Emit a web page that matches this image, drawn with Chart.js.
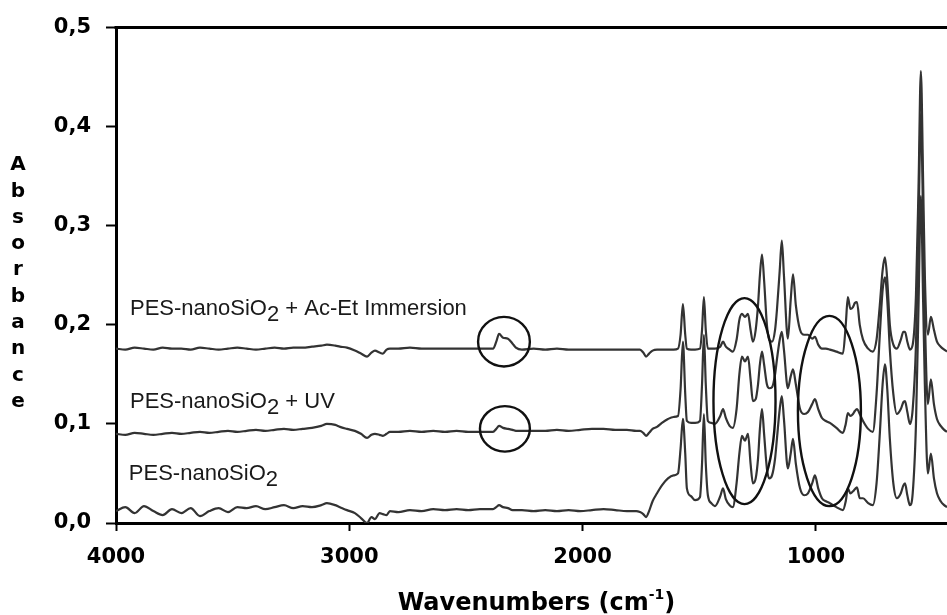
<!DOCTYPE html>
<html>
<head>
<meta charset="utf-8">
<script src="https://cdn.jsdelivr.net/npm/chart.js@4.4.1/dist/chart.umd.min.js"></script>
<style>
  html, body { margin: 0; padding: 0; background: #fff; }
  #wrap { width: 947px; height: 615px; }
</style>
</head>
<body>
<div id="wrap"><canvas id="ftir"></canvas></div>
<script>
// --- DATA ---
// wavenumbers, cm-1 (axis runs 4000 -> ~440)
const WN = [
  4000, 3960, 3920, 3880, 3840, 3800, 3760, 3720, 3680, 3640, 3600, 3560, 3520, 3480, 3440, 3400,
  3360, 3320, 3280, 3240, 3200, 3160, 3120, 3096, 3060, 3040, 3010, 2976, 2950, 2924, 2905, 2890,
  2870, 2856, 2840, 2826, 2790, 2740, 2690, 2640, 2590, 2540, 2490, 2440, 2400, 2384, 2370, 2358,
  2341, 2320, 2300, 2286, 2260, 2210, 2160, 2110, 2060, 2010, 1960, 1910, 1860, 1810, 1770, 1754,
  1740, 1728, 1715, 1700, 1681, 1660, 1634, 1610, 1591, 1580, 1570, 1560, 1553, 1535, 1518, 1497,
  1488, 1480, 1472, 1463, 1448, 1433, 1410, 1398, 1386, 1370, 1356, 1340, 1328, 1317, 1304, 1291,
  1280, 1270, 1258, 1248, 1240, 1231, 1222, 1210, 1200, 1188, 1175, 1167, 1155, 1146, 1137, 1120,
  1108, 1098, 1086, 1068, 1050, 1034, 1016, 1004, 990, 974, 957, 940, 912, 884, 872, 863,
  852, 841, 833, 824, 812, 798, 776, 756, 740, 726, 714, 704, 694, 683, 668, 653,
  636, 625, 618, 608, 597, 585, 571, 560, 550, 540, 533, 520, 507, 494, 481, 465,
  450, 438
];

// PES-nanoSiO2 + Ac-Et Immersion
const ABS_ACET = [
  0.176, 0.175, 0.177, 0.176, 0.175, 0.177, 0.176, 0.176, 0.175, 0.177, 0.176, 0.175, 0.176, 0.177, 0.176, 0.175,
  0.176, 0.177, 0.176, 0.177, 0.177, 0.178, 0.179, 0.180, 0.179, 0.178, 0.177, 0.174, 0.171, 0.168, 0.172, 0.174,
  0.172, 0.171, 0.175, 0.176, 0.176, 0.177, 0.176, 0.176, 0.176, 0.176, 0.176, 0.176, 0.176, 0.176, 0.183, 0.191,
  0.187, 0.186, 0.181, 0.177, 0.175, 0.176, 0.175, 0.176, 0.175, 0.175, 0.175, 0.175, 0.175, 0.175, 0.175, 0.175,
  0.172, 0.168, 0.171, 0.174, 0.175, 0.175, 0.175, 0.175, 0.176, 0.190, 0.221, 0.190, 0.176, 0.175, 0.175, 0.176,
  0.195, 0.228, 0.195, 0.176, 0.176, 0.176, 0.178, 0.183, 0.178, 0.175, 0.173, 0.185, 0.205, 0.211, 0.208, 0.211,
  0.195, 0.183, 0.195, 0.220, 0.250, 0.271, 0.245, 0.200, 0.185, 0.183, 0.195, 0.215, 0.255, 0.285, 0.250, 0.186,
  0.225, 0.251, 0.220, 0.195, 0.190, 0.190, 0.186, 0.188, 0.180, 0.176, 0.176, 0.175, 0.173, 0.171, 0.200, 0.228,
  0.216, 0.218, 0.222, 0.223, 0.200, 0.185, 0.176, 0.173, 0.185, 0.220, 0.255, 0.268, 0.245, 0.200, 0.180, 0.176,
  0.185, 0.193, 0.193, 0.183, 0.175, 0.180, 0.230, 0.340, 0.456, 0.340, 0.250, 0.190, 0.208, 0.195, 0.183, 0.178,
  0.175, 0.173
];

// PES-nanoSiO2 + UV
const ABS_UV = [
  0.090, 0.089, 0.091, 0.090, 0.089, 0.090, 0.091, 0.090, 0.091, 0.092, 0.091, 0.092, 0.093, 0.092, 0.093, 0.094,
  0.093, 0.094, 0.095, 0.094, 0.095, 0.096, 0.098, 0.100, 0.099, 0.097, 0.095, 0.093, 0.090, 0.086, 0.089, 0.090,
  0.089, 0.088, 0.090, 0.092, 0.092, 0.093, 0.092, 0.093, 0.092, 0.093, 0.092, 0.092, 0.092, 0.092, 0.095, 0.098,
  0.096, 0.095, 0.094, 0.093, 0.093, 0.093, 0.093, 0.094, 0.093, 0.094, 0.095, 0.095, 0.094, 0.094, 0.093, 0.093,
  0.091, 0.088, 0.091, 0.095, 0.097, 0.101, 0.105, 0.107, 0.108, 0.135, 0.183, 0.130, 0.103, 0.101, 0.101, 0.103,
  0.140, 0.190, 0.140, 0.103, 0.101, 0.100, 0.108, 0.115, 0.106, 0.098, 0.096, 0.115, 0.150, 0.168, 0.163, 0.168,
  0.145, 0.123, 0.125, 0.140, 0.160, 0.173, 0.160, 0.140, 0.136, 0.137, 0.150, 0.165, 0.185, 0.193, 0.175, 0.136,
  0.148, 0.155, 0.140, 0.115, 0.110, 0.112, 0.120, 0.125, 0.115, 0.106, 0.103, 0.101, 0.096, 0.091, 0.100, 0.111,
  0.108, 0.110, 0.113, 0.115, 0.110, 0.103, 0.095, 0.092, 0.130, 0.190, 0.235, 0.248, 0.225, 0.175, 0.130, 0.110,
  0.115, 0.122, 0.123, 0.112, 0.100, 0.115, 0.180, 0.300, 0.413, 0.300, 0.210, 0.120, 0.145, 0.120, 0.105, 0.098,
  0.094, 0.092
];

// PES-nanoSiO2
const ABS_PES = [
  0.012, 0.016, 0.010, 0.017, 0.012, 0.008, 0.014, 0.010, 0.015, 0.007, 0.012, 0.015, 0.011, 0.016, 0.015, 0.017,
  0.014, 0.016, 0.018, 0.015, 0.017, 0.016, 0.018, 0.020, 0.018, 0.016, 0.013, 0.010, 0.005, 0.000, 0.006, 0.004,
  0.010, 0.009, 0.008, 0.012, 0.011, 0.013, 0.012, 0.014, 0.013, 0.014, 0.013, 0.014, 0.014, 0.014, 0.016, 0.018,
  0.016, 0.015, 0.013, 0.013, 0.013, 0.012, 0.013, 0.012, 0.013, 0.012, 0.013, 0.014, 0.013, 0.012, 0.012, 0.011,
  0.009, 0.006, 0.012, 0.022, 0.030, 0.038, 0.045, 0.048, 0.050, 0.075, 0.105, 0.070, 0.035, 0.027, 0.023, 0.026,
  0.060, 0.110, 0.060, 0.028, 0.020, 0.017, 0.027, 0.035, 0.024, 0.018, 0.016, 0.040, 0.070, 0.088, 0.083, 0.090,
  0.060, 0.040, 0.045, 0.065, 0.095, 0.115, 0.090, 0.055, 0.045, 0.048, 0.065, 0.085, 0.115, 0.128, 0.105, 0.055,
  0.070, 0.085, 0.060, 0.035, 0.028, 0.030, 0.040, 0.048, 0.035, 0.025, 0.022, 0.020, 0.016, 0.013, 0.022, 0.035,
  0.030, 0.032, 0.034, 0.036, 0.025, 0.025, 0.020, 0.018, 0.040, 0.090, 0.140, 0.160, 0.135, 0.085, 0.040, 0.025,
  0.030, 0.038, 0.040, 0.028, 0.018, 0.030, 0.100, 0.220, 0.330, 0.220, 0.140, 0.050, 0.070, 0.045, 0.030, 0.022,
  0.018, 0.016
];

const X_TICKS = [4000, 3000, 2000, 1000];
const Y_TICKS = [0, 0.1, 0.2, 0.3, 0.4, 0.5];

// text next to each spectrum: [before subscript, subscript, after]
const LABELS = [
  { wn: 3940, abs: 0.210, parts: ['PES-nanoSiO', '2', ' + Ac-Et Immersion'] },
  { wn: 3940, abs: 0.116, parts: ['PES-nanoSiO', '2', ' + UV'] },
  { wn: 3945, abs: 0.043, parts: ['PES-nanoSiO', '2', ''] }
];

// circled regions (centre + half sizes, in data units)
const MARKS = [
  { wn: 2337, abs: 0.183, dwn: 111, dabs: 0.025 },
  { wn: 2333, abs: 0.095, dwn: 107, dabs: 0.023 },
  { wn: 1306, abs: 0.123, dwn: 133, dabs: 0.104 },
  { wn: 942,  abs: 0.113, dwn: 135, dabs: 0.096 }
];

const BOLD = 'DejaVu Sans';
const PLAIN = 'Liberation Sans, Arial, sans-serif';
const LINE = '#333';

function toPoints(values) {
  return WN.map((w, i) => ({ x: w, y: values[i] }));
}

function spectrum(values) {
  return {
    data: toPoints(values),
    borderColor: LINE,
    borderWidth: 2.2,
    pointRadius: 0,
    fill: false,
    cubicInterpolationMode: 'monotone'
  };
}

// frame top, circles, labels and axis titles
const overlay = {
  id: 'overlay',
  afterDraw(chart) {
    const { ctx, chartArea: area, scales: { x, y } } = chart;
    ctx.save();

    ctx.strokeStyle = '#000';
    ctx.lineWidth = 3;
    ctx.beginPath();
    ctx.moveTo(area.left - 1.5, area.top);
    ctx.lineTo(area.right, area.top);
    ctx.stroke();

    ctx.lineWidth = 2.4;
    ctx.strokeStyle = '#111';
    MARKS.forEach(m => {
      const cx = x.getPixelForValue(m.wn);
      const cy = y.getPixelForValue(m.abs);
      const rx = Math.abs(x.getPixelForValue(m.wn - m.dwn) - cx);
      const ry = Math.abs(y.getPixelForValue(m.abs + m.dabs) - cy);
      ctx.beginPath();
      ctx.ellipse(cx, cy, rx, ry, 0, 0, Math.PI * 2);
      ctx.stroke();
    });

    ctx.fillStyle = '#1a1a1a';
    ctx.font = '22px ' + PLAIN;
    ctx.textBaseline = 'alphabetic';
    ctx.textAlign = 'left';
    LABELS.forEach(l => {
      let px = x.getPixelForValue(l.wn);
      const py = y.getPixelForValue(l.abs);
      ctx.fillText(l.parts[0], px, py);
      px += ctx.measureText(l.parts[0]).width;
      ctx.fillText(l.parts[1], px, py + 6);
      px += ctx.measureText(l.parts[1]).width;
      ctx.fillText(l.parts[2], px, py);
    });

    // x title with superscript -1
    ctx.fillStyle = '#000';
    ctx.font = 'bold 24px ' + BOLD;
    const main = 'Wavenumbers (cm';
    const sup = '-1';
    const close = ')';
    const wMain = ctx.measureText(main).width;
    const wClose = ctx.measureText(close).width;
    ctx.font = 'bold 14px ' + BOLD;
    const wSup = ctx.measureText(sup).width;
    let tx = (area.left + area.right) / 2 + 5 - (wMain + wSup + wClose) / 2;
    const ty = 610;
    ctx.font = 'bold 24px ' + BOLD;
    ctx.fillText(main, tx, ty);
    tx += wMain;
    ctx.font = 'bold 14px ' + BOLD;
    ctx.fillText(sup, tx, ty - 11);
    tx += wSup;
    ctx.font = 'bold 24px ' + BOLD;
    ctx.fillText(close, tx, ty);

    // y title, one letter per row
    ctx.font = 'bold 20px ' + BOLD;
    ctx.textAlign = 'center';
    ctx.textBaseline = 'middle';
    'Absorbance'.split('').forEach((ch, i) => {
      ctx.fillText(ch, 18, 165 + i * 26.3);
    });

    ctx.restore();
  }
};

new Chart(document.getElementById('ftir'), {
  type: 'line',
  data: {
    datasets: [spectrum(ABS_ACET), spectrum(ABS_UV), spectrum(ABS_PES)]
  },
  plugins: [overlay],
  options: {
    responsive: true,
    maintainAspectRatio: false,
    animation: false,
    events: [],
    layout: { padding: { top: 23, right: 0, left: 0, bottom: 0 } },
    plugins: { legend: { display: false }, tooltip: { enabled: false } },
    scales: {
      x: {
        type: 'linear',
        reverse: true,
        min: 438,
        max: 4000,
        afterBuildTicks: s => { s.ticks = X_TICKS.map(v => ({ value: v })); },
        afterFit: s => { s.height = 92; },
        border: { display: true, color: '#000', width: 3 },
        grid: { drawOnChartArea: false, drawTicks: true, tickLength: 8, tickWidth: 2, tickColor: '#000' },
        ticks: {
          color: '#000',
          padding: 14,
          maxRotation: 0,
          font: { family: BOLD, weight: 'bold', size: 21 },
          callback: v => String(v)
        }
      },
      y: {
        type: 'linear',
        min: 0,
        max: 0.5,
        afterBuildTicks: s => { s.ticks = Y_TICKS.map(v => ({ value: v })); },
        afterFit: s => { s.width = 116; },
        border: { display: true, color: '#000', width: 3 },
        grid: { drawOnChartArea: false, drawTicks: true, tickLength: 10, tickWidth: 2, tickColor: '#000' },
        ticks: {
          color: '#000',
          padding: 15,
          font: { family: BOLD, weight: 'bold', size: 21 },
          callback: v => v.toFixed(1).replace('.', ',')
        }
      }
    }
  }
});
</script>
</body>
</html>
